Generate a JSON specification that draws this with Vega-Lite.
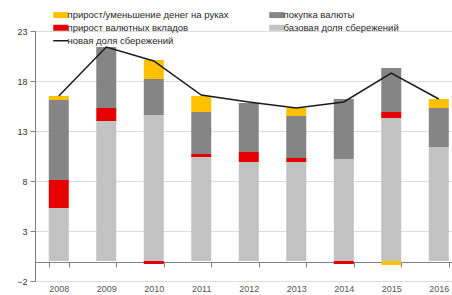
{
  "$schema": "https://vega.github.io/schema/vega-lite/v6.json",
  "width": 417,
  "height": 250,
  "autosize": "none",
  "padding": {"left": 35, "top": 31, "right": 0, "bottom": 14},
  "background": "white",
  "config": {
    "view": {"stroke": null},
    "font": "Liberation Sans",
    "axis": {"labelFont": "Liberation Sans", "labelFontSize": 9, "labelColor": "#333333"}
  },
  "datasets": {
    "bars": [
      {"year": "2008", "series": "базовая доля сбережений", "value": 5.3, "ord": 1},
      {"year": "2008", "series": "прирост валютных вкладов", "value": 2.8, "ord": 2},
      {"year": "2008", "series": "покупка валюты", "value": 8.0, "ord": 3},
      {"year": "2008", "series": "прирост/уменьшение денег на руках", "value": 0.4, "ord": 4},
      {"year": "2009", "series": "базовая доля сбережений", "value": 14.0, "ord": 1},
      {"year": "2009", "series": "прирост валютных вкладов", "value": 1.3, "ord": 2},
      {"year": "2009", "series": "покупка валюты", "value": 6.1, "ord": 3},
      {"year": "2009", "series": "прирост/уменьшение денег на руках", "value": 0.0, "ord": 4},
      {"year": "2010", "series": "базовая доля сбережений", "value": 14.6, "ord": 1},
      {"year": "2010", "series": "прирост валютных вкладов", "value": -0.3, "ord": 2},
      {"year": "2010", "series": "покупка валюты", "value": 3.6, "ord": 3},
      {"year": "2010", "series": "прирост/уменьшение денег на руках", "value": 1.9, "ord": 4},
      {"year": "2011", "series": "базовая доля сбережений", "value": 10.4, "ord": 1},
      {"year": "2011", "series": "прирост валютных вкладов", "value": 0.3, "ord": 2},
      {"year": "2011", "series": "покупка валюты", "value": 4.2, "ord": 3},
      {"year": "2011", "series": "прирост/уменьшение денег на руках", "value": 1.6, "ord": 4},
      {"year": "2012", "series": "базовая доля сбережений", "value": 9.9, "ord": 1},
      {"year": "2012", "series": "прирост валютных вкладов", "value": 1.0, "ord": 2},
      {"year": "2012", "series": "покупка валюты", "value": 4.9, "ord": 3},
      {"year": "2012", "series": "прирост/уменьшение денег на руках", "value": 0.0, "ord": 4},
      {"year": "2013", "series": "базовая доля сбережений", "value": 9.9, "ord": 1},
      {"year": "2013", "series": "прирост валютных вкладов", "value": 0.4, "ord": 2},
      {"year": "2013", "series": "покупка валюты", "value": 4.2, "ord": 3},
      {"year": "2013", "series": "прирост/уменьшение денег на руках", "value": 0.8, "ord": 4},
      {"year": "2014", "series": "базовая доля сбережений", "value": 10.2, "ord": 1},
      {"year": "2014", "series": "прирост валютных вкладов", "value": -0.3, "ord": 2},
      {"year": "2014", "series": "покупка валюты", "value": 6.0, "ord": 3},
      {"year": "2014", "series": "прирост/уменьшение денег на руках", "value": 0.0, "ord": 4},
      {"year": "2015", "series": "базовая доля сбережений", "value": 14.3, "ord": 1},
      {"year": "2015", "series": "прирост валютных вкладов", "value": 0.6, "ord": 2},
      {"year": "2015", "series": "покупка валюты", "value": 4.4, "ord": 3},
      {"year": "2015", "series": "прирост/уменьшение денег на руках", "value": -0.4, "ord": 4},
      {"year": "2016", "series": "базовая доля сбережений", "value": 11.4, "ord": 1},
      {"year": "2016", "series": "прирост валютных вкладов", "value": 0.0, "ord": 2},
      {"year": "2016", "series": "покупка валюты", "value": 3.9, "ord": 3},
      {"year": "2016", "series": "прирост/уменьшение денег на руках", "value": 0.9, "ord": 4}
    ],
    "line": [
      {"year": "2008", "value": 16.5},
      {"year": "2009", "value": 21.4},
      {"year": "2010", "value": 20.0},
      {"year": "2011", "value": 16.6},
      {"year": "2012", "value": 15.9},
      {"year": "2013", "value": 15.3},
      {"year": "2014", "value": 15.9},
      {"year": "2015", "value": 18.8},
      {"year": "2016", "value": 16.2}
    ]
  },
  "encoding": {
    "x": {
      "field": "year", "type": "nominal", "title": null,
      "scale": {"paddingInner": 0.579, "paddingOuter": 0.179, "align": 0.81},
      "axis": {
        "orient": "bottom", "offset": -19, "labelAngle": 0,
        "domainColor": "#808080", "tickColor": "#808080", "tickSize": 5,
        "tickBand": "extent", "labelPadding": 17, "labelColor": "#555555",
        "grid": false
      }
    }
  },
  "layer": [
    {
      "data": {"name": "bars"},
      "mark": {"type": "bar"},
      "encoding": {
        "y": {
          "field": "value", "type": "quantitative", "stack": "zero", "title": null,
          "scale": {"domain": [-2, 23], "nice": false, "zero": false},
          "axis": {
            "values": [-2, 3, 8, 13, 18, 23],
            "domainColor": "#808080", "tickColor": "#808080", "tickSize": 5,
            "gridColor": "#dcdcdc", "labelPadding": 3, "labelColor": "#333333"
          }
        },
        "order": {"field": "ord", "type": "quantitative"},
        "color": {
          "field": "series", "type": "nominal",
          "scale": {
            "domain": ["прирост/уменьшение денег на руках", "прирост валютных вкладов", "новая доля сбережений", "покупка валюты", "базовая доля сбережений"],
            "range": ["#ffc000", "#e60000", "#1a1a1a", "#858585", "#c2c2c2"]
          },
          "legend": {
            "title": null, "orient": "none", "legendX": 21, "legendY": -21,
            "columns": 2, "columnPadding": 40, "rowPadding": 2,
            "symbolType": "M-1,-0.4H1V0.4H-1Z", "symbolSize": 225,
            "labelFontSize": 9.5, "labelColor": "#1f1f1f", "labelOffset": 2, "labelLimit": 300,
            "encode": {
              "symbols": {
                "update": {
                  "shape": {"signal": "datum.value === 'новая доля сбережений' ? 'stroke' : 'M-1,-0.4H1V0.4H-1Z'"},
                  "fill": {"scale": "color", "field": "value"},
                  "stroke": {"scale": "color", "field": "value"},
                  "strokeWidth": {"signal": "datum.value === 'новая доля сбережений' ? 1.5 : 0"},
                  "opacity": {"value": 1}
                }
              }
            }
          }
        }
      }
    },
    {
      "data": {"name": "line"},
      "mark": {"type": "line", "strokeWidth": 1.5},
      "encoding": {
        "y": {"field": "value", "type": "quantitative"},
        "color": {"datum": "новая доля сбережений"}
      }
    }
  ]
}
